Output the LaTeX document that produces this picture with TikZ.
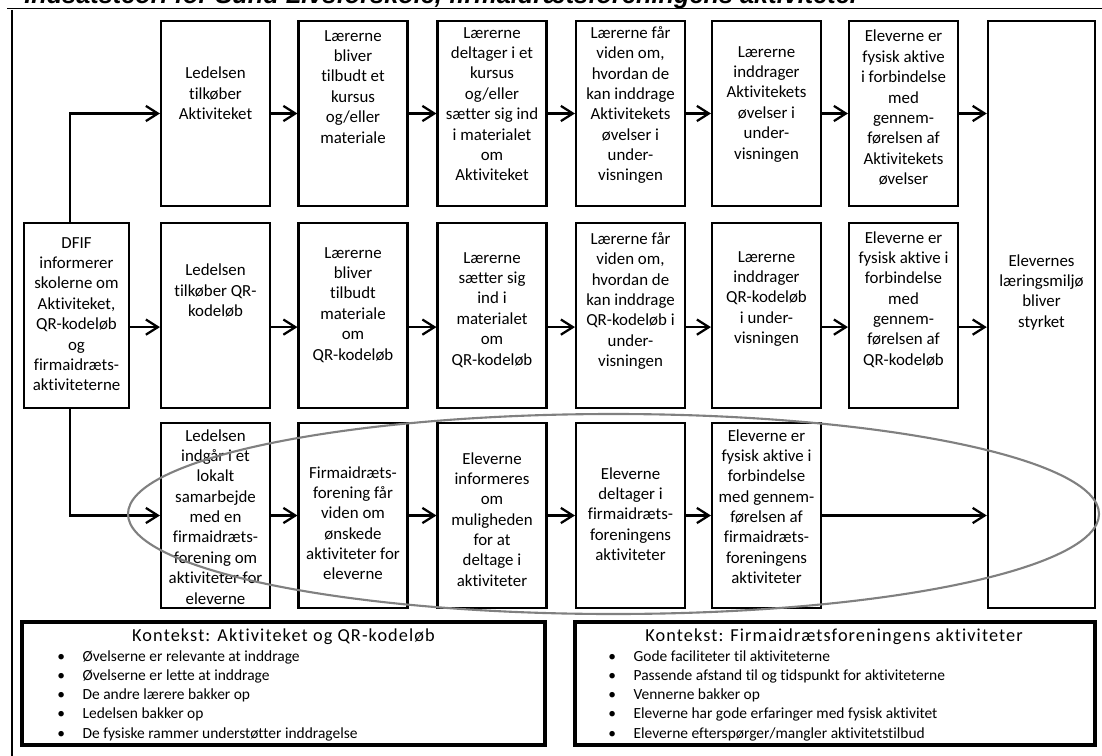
\documentclass[tikz,border=0pt]{standalone}
\usepackage{fontspec}
\setmainfont[Ligatures=NoCommon]{Carlito}
\newfontfamily\titlefont{Liberation Sans}
\newfontfamily\kontekstfont[LetterSpace=6, Ligatures=NoCommon]{Carlito}
\usetikzlibrary{arrows.meta}
\usetikzlibrary{positioning}
\tikzset{box/.style = {draw, line width=1.6pt, minimum width=2.72cm,
                       minimum height=4.62cm, inner sep=0pt}}
\tikzset{txt/.style = {anchor=north, align=center, inner sep=0pt,
                       font=\fontsize{12}{14.5}\selectfont}}
\tikzset{flow/.style = {line width=1.6pt,
                        -{Straight Barb[length=3mm, width=3.8mm, line width=1.6pt]}}}
\tikzset{kontekst/.style = {draw, line width=2.4pt, minimum height=3.07cm, inner sep=0pt}}
\definecolor{ringgray}{rgb}{0.5, 0.5, 0.5}

\begin{document}
\begin{tikzpicture}[x=0.025cm, y=-0.025cm]
    \useasboundingbox (0, 0) rectangle (1102, 755);

    \node [anchor=base west, inner sep=0pt,
           font=\titlefont\bfseries\itshape\fontsize{18}{21}\selectfont] (title) at (24, 3.5)
          {Indsatsteori for Sund Livsforskole, firmaidrætsforeningens aktiviteter};
    \draw [line width=1.4pt] (7, 8.5) -- (1104, 8.5);
    \draw [line width=1.4pt] (12, 10) -- (12, 760);

    % raekke 1: Aktiviteket
    \node [box] (r1c1) at (215.5, 113.5) {};
    \node [box] (r1c2) at (353, 113.5) {};
    \node [box] (r1c3) at (492, 113.5) {};
    \node [box] (r1c4) at (630.5, 113.5) {};
    \node [box] (r1c5) at (766.5, 113.5) {};
    \node [box] (r1c6) at (903.5, 113.5) {};

    \node [txt] (t1c1) at (215.5, 67) {Ledelsen\\tilkøber\\Aktiviteket};
    \node [txt] (t1c2) at (353, 30) {Lærerne\\bliver\\tilbudt et\\kursus\\og/eller\\materiale};
    \node [txt] (t1c3) at (492, 27) {Lærerne\\deltager i et\\kursus\\og/eller\\sætter sig ind\\i materialet\\om\\Aktiviteket};
    \node [txt] (t1c4) at (630.5, 26) {Lærerne får\\viden om,\\hvordan de\\kan inddrage\\Aktivitekets\\øvelser i\\under-\\visningen};
    \node [txt] (t1c5) at (766.5, 46) {Lærerne\\inddrager\\Aktivitekets\\øvelser i\\under-\\visningen};
    \node [txt] (t1c6) at (903.5, 30) {Eleverne er\\fysisk aktive\\i forbindelse\\med\\gennem-\\førelsen af\\Aktivitekets\\øvelser};

    % raekke 2: QR-kodeloeb
    \node [box, minimum width=2.62cm] (dfif) at (76.5, 315.5) {};
    \node [box] (r2c1) at (215.5, 315.5) {};
    \node [box] (r2c2) at (353, 315.5) {};
    \node [box] (r2c3) at (492, 315.5) {};
    \node [box] (r2c4) at (630.5, 315.5) {};
    \node [box] (r2c5) at (766.5, 315.5) {};
    \node [box] (r2c6) at (903.5, 315.5) {};
    \node [box, minimum width=2.68cm, minimum height=14.68cm] (effekt) at (1041.5, 314.5) {};

    \node [txt] (tdfif) at (76.5, 237) {DFIF\\informerer\\skolerne om\\Aktiviteket,\\QR-kodeløb\\og\\firmaidræts-\\aktiviteterne};
    \node [txt] (t2c1) at (215.5, 264) {Ledelsen\\tilkøber QR-\\kodeløb};
    \node [txt] (t2c2) at (353, 247) {Lærerne\\bliver\\tilbudt\\materiale\\om\\QR-kodeløb};
    \node [txt] (t2c3) at (492, 252) {Lærerne\\sætter sig\\ind i\\materialet\\om\\QR-kodeløb};
    \node [txt] (t2c4) at (630.5, 232) {Lærerne får\\viden om,\\hvordan de\\kan inddrage\\QR-kodeløb i\\under-\\visningen};
    \node [txt] (t2c5) at (766.5, 251) {Lærerne\\inddrager\\QR-kodeløb\\i under-\\visningen};
    \node [txt] (t2c6) at (903.5, 231) {Eleverne er\\fysisk aktive i\\forbindelse\\med\\gennem-\\førelsen af\\QR-kodeløb};
    \node [txt] (teffekt) at (1041.5, 254) {Elevernes\\læringsmiljø\\bliver\\styrket};

    % raekke 3: firmaidraet
    \node [box] (r3c1) at (215.5, 515.5) {};
    \node [box] (r3c2) at (353, 515.5) {};
    \node [box] (r3c3) at (492, 515.5) {};
    \node [box] (r3c4) at (630.5, 515.5) {};
    \node [box] (r3c5) at (766.5, 515.5) {};

    \node [txt] (t3c1) at (215.5, 429) {Ledelsen\\indgår i et\\lokalt\\samarbejde\\med en\\firmaidræts-\\forening om\\aktiviteter for\\eleverne};
    \node [txt] (t3c2) at (353, 466) {Firmaidræts-\\forening får\\viden om\\ønskede\\aktiviteter for\\eleverne};
    \node [txt] (t3c3) at (492, 452) {Eleverne\\informeres\\om\\muligheden\\for at\\deltage i\\aktiviteter};
    \node [txt] (t3c4) at (630.5, 467) {Eleverne\\deltager i\\firmaidræts-\\foreningens\\aktiviteter};
    \node [txt] (t3c5) at (766.5, 429) {Eleverne er\\fysisk aktive i\\forbindelse\\med gennem-\\førelsen af\\firmaidræts-\\foreningens\\aktiviteter};

    % pile
    \draw [flow] ([xshift=-1.6mm]dfif.north) |- (r1c1);
    \draw [flow] ([xshift=-1.6mm]dfif.south) |- (r3c1);
    \foreach \a/\b in {c1/c2, c2/c3, c3/c4, c4/c5, c5/c6} {
        \draw [flow] (r1\a) -- (r1\b);
        \draw [flow] ([yshift=-2.9mm]r2\a.east) -- ([yshift=-2.9mm]r2\b.west);
    }
    \foreach \a/\b in {c1/c2, c2/c3, c3/c4, c4/c5} {
        \draw [flow] (r3\a) -- (r3\b);
    }
    \draw [flow] ([yshift=-2.9mm]dfif.east) -- ([yshift=-2.9mm]r2c1.west);
    \draw [flow] (r1c6.east) -- (r1c6.east -| effekt.west);
    \draw [flow] ([yshift=-2.9mm]r2c6.east) -- ([yshift=-2.9mm]r2c6.east -| effekt.west);
    \draw [flow] (r3c5.east) -- (r3c5.east -| effekt.west);

    \draw [ringgray, line width=1.5pt] (613.5, 514) ellipse [x radius=485.5, y radius=100];

    % kontekst
    \node [kontekst, minimum width=13.07cm] (kon1) at (283.5, 683.5) {};
    \node [kontekst, minimum width=13cm] (kon2) at (835, 683.5) {};

    \node [txt, font=\kontekstfont\fontsize{13}{15}\selectfont] (kon1titel) at (283.5, 629) {Kontekst: Aktiviteket og QR-kodeløb};
    \node [txt, anchor=north west, align=left, font=\fontsize{11}{13.7}\selectfont] (kon1liste) at (57, 650)
          {\makebox[18pt][l]{\textbullet}Øvelserne er relevante at inddrage\\
           \makebox[18pt][l]{\textbullet}Øvelserne er lette at inddrage\\
           \makebox[18pt][l]{\textbullet}De andre lærere bakker op\\
           \makebox[18pt][l]{\textbullet}Ledelsen bakker op\\
           \makebox[18pt][l]{\textbullet}De fysiske rammer understøtter inddragelse};

    \node [txt, font=\kontekstfont\fontsize{13}{15}\selectfont] (kon2titel) at (834, 629) {Kontekst: Firmaidrætsforeningens aktiviteter};
    \node [txt, anchor=north west, align=left, font=\fontsize{11}{13.7}\selectfont] (kon2liste) at (608, 650)
          {\makebox[18pt][l]{\textbullet}Gode faciliteter til aktiviteterne\\
           \makebox[18pt][l]{\textbullet}Passende afstand til og tidspunkt for aktiviteterne\\
           \makebox[18pt][l]{\textbullet}Vennerne bakker op\\
           \makebox[18pt][l]{\textbullet}Eleverne har gode erfaringer med fysisk aktivitet\\
           \makebox[18pt][l]{\textbullet}Eleverne efterspørger/mangler aktivitetstilbud};
\end{tikzpicture}
\end{document}
